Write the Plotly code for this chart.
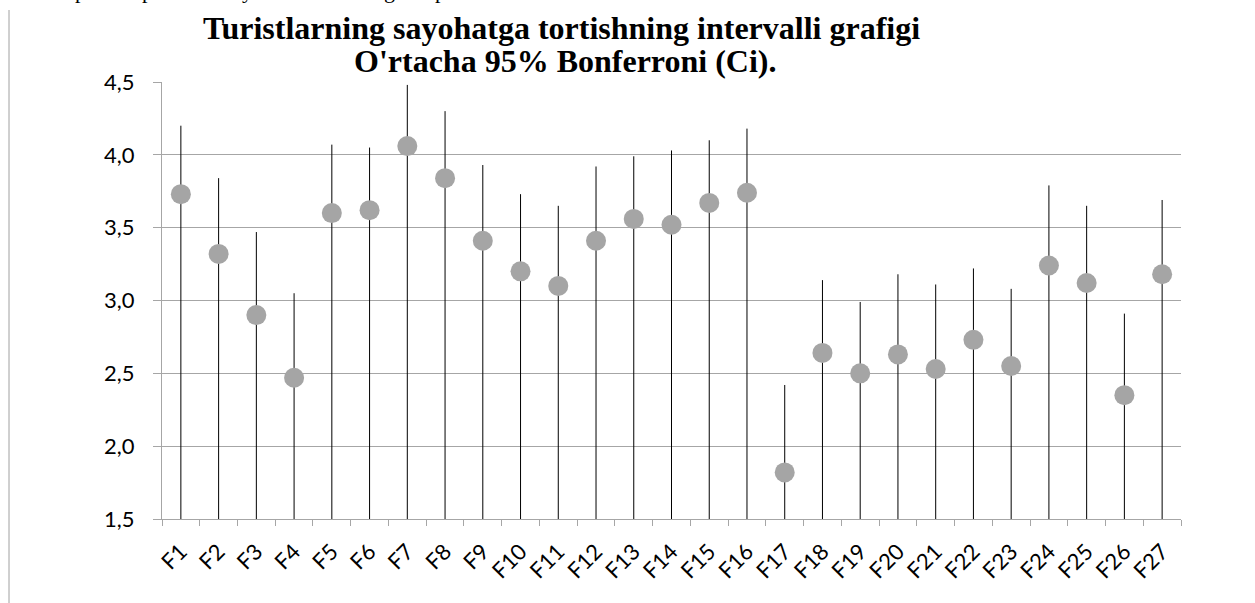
import plotly.graph_objects as go

categories = [f"F{i}" for i in range(1, 28)]
mean_values = [3.73, 3.32, 2.90, 2.47, 3.60, 3.62, 4.06, 3.84, 3.41, 3.20,
               3.10, 3.41, 3.56, 3.52, 3.67, 3.74, 1.82, 2.64, 2.50, 2.63,
               2.53, 2.73, 2.55, 3.24, 3.12, 2.35, 3.18]
upper_ci = [4.20, 3.84, 3.47, 3.05, 4.07, 4.05, 4.48, 4.30, 3.93, 3.73,
            3.65, 3.92, 3.99, 4.03, 4.10, 4.18, 2.42, 3.14, 2.99, 3.18,
            3.11, 3.22, 3.08, 3.79, 3.65, 2.91, 3.69]
y_ticks = [1.5, 2.0, 2.5, 3.0, 3.5, 4.0, 4.5]

Y_MIN, Y_MAX = 1.5, 4.5
title_lines = ["Turistlarning sayohatga tortishning intervalli grafigi",
               "O'rtacha 95% Bonferroni (Ci)."]
# descenders of a cut-off line of document text above the chart
top_fragment = ["p", "p", "y", "g", "p"]
top_fragment_x = [80, 147, 247, 389, 440]

W, H = 1255, 603
L, R, T, B = 162, 74, 82, 84
plot_w, plot_h = W - L - R, H - T - B

def px_x(x):
    return (x - L) / plot_w

def px_y(y):
    return (H - B - y) / plot_h

fig = go.Figure()
fig.add_trace(go.Scatter(
    x=categories, y=mean_values, mode="markers",
    marker=dict(size=20, color="#A5A5A5", line=dict(width=0)),
    error_y=dict(type="data", symmetric=False,
                 array=[u - m for u, m in zip(upper_ci, mean_values)],
                 arrayminus=[m - Y_MIN for m in mean_values],
                 color="black", thickness=1, width=0),
    cliponaxis=False, showlegend=False,
))

title_font = dict(family="Liberation Serif", size=32, color="black", weight="bold")
annotations = [
    dict(text=title_lines[0], xref="paper", yref="paper", x=px_x(561), y=px_y(28),
         xanchor="center", yanchor="middle", showarrow=False, font=title_font),
    dict(text=title_lines[1], xref="paper", yref="paper", x=px_x(565), y=px_y(61),
         xanchor="center", yanchor="middle", showarrow=False, font=title_font),
]
for ch, xx in zip(top_fragment, top_fragment_x):
    annotations.append(dict(text=ch, xref="paper", yref="paper", x=px_x(xx), y=px_y(-10),
                            xanchor="center", yanchor="middle", showarrow=False,
                            font=dict(family="Liberation Serif", size=22, color="black")))

GRID = "#A6A6A6"
fig.update_layout(
    width=W, height=H,
    margin=dict(l=L, r=R, t=T, b=B),
    paper_bgcolor="white", plot_bgcolor="white",
    separators=",.",
    font=dict(family="Lato", size=22, color="black"),
    xaxis=dict(type="category", range=[-0.5, len(categories) - 0.5],
               tickangle=-45, tickson="boundaries",
               ticks="outside", ticklen=6, tickcolor=GRID, tickwidth=1,
               showline=True, linecolor=GRID, linewidth=1, showgrid=False,
               tickfont=dict(family="Lato", size=22), ticklabelstandoff=10),
    yaxis=dict(range=[Y_MIN, Y_MAX], tickvals=y_ticks, tickformat=".1f",
               ticks="outside", ticklen=8, tickcolor=GRID, tickwidth=1,
               showline=True, linecolor=GRID, linewidth=1,
               showgrid=True, gridcolor=GRID, gridwidth=1, zeroline=False,
               tickfont=dict(family="Lato", size=22), ticklabelstandoff=14),
    annotations=annotations,
    shapes=[dict(type="line", xref="paper", yref="paper", x0=px_x(9), x1=px_x(9),
                 y0=px_y(603), y1=px_y(10), line=dict(color="#A0A0A0", width=1))],
)
fig.write_html("out.html", config={"displayModeBar": False},
               post_script="document.body.style.margin='0';")
